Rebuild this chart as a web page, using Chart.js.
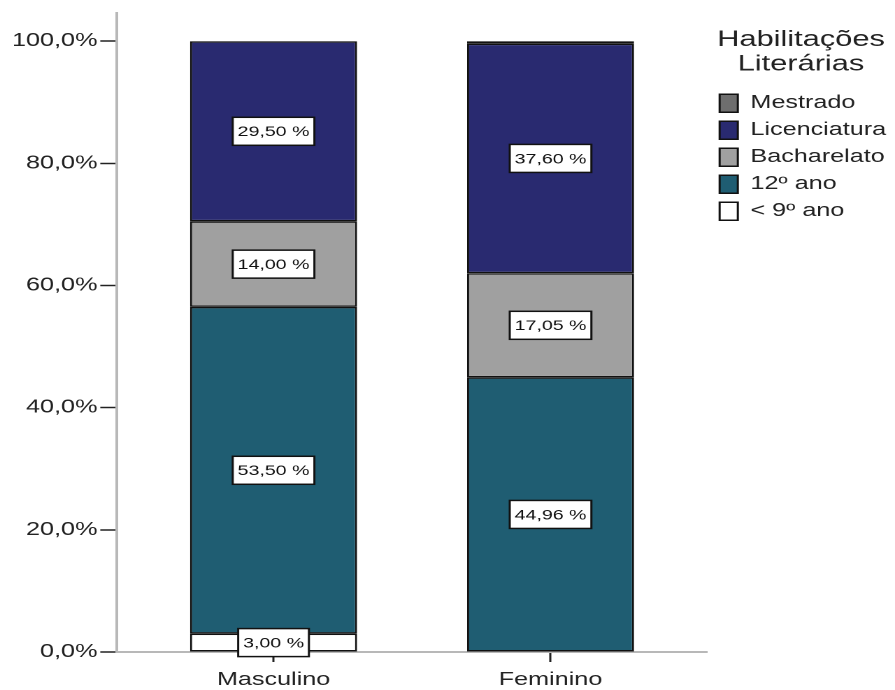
<!DOCTYPE html>
<html>
<head>
<meta charset="utf-8">
<script src="https://cdn.jsdelivr.net/npm/chart.js@4/dist/chart.umd.min.js"></script>
<style>
  html, body { margin: 0; padding: 0; background: #fff; overflow: hidden; }
  /* the chart is laid out narrow and widened horizontally */
  #wrap { width: 640px; height: 690px; transform: scaleX(1.3984375); transform-origin: 0 0; }
</style>
</head>
<body>
<div id="wrap"><canvas id="c"></canvas></div>
<script>
const categories = ['Masculino', 'Feminino'];
const seriesNames = ['< 9º ano', '12º ano', 'Bacharelato', 'Licenciatura', 'Mestrado'];
const menor9 = [3.00, 0];
const ano12 = [53.50, 44.96];
const bacharelato = [14.00, 17.05];
const licenciatura = [29.50, 37.60];
const mestrado = [0, 0.39];
const seriesColors = ['#ffffff', '#1f5d72', '#a0a0a0', '#292a70', '#6e6e6e'];
const yTickValues = [0, 20, 40, 60, 80, 100];

const FONT = "'Liberation Sans', Arial, sans-serif";
const seriesValues = [menor9, ano12, bacharelato, licenciatura, mestrado];

const fmtPct = v => v.toFixed(2).replace('.', ',') + ' %';

const segmentLabels = {
  id: 'segmentLabels',
  afterDatasetsDraw(chart) {
    const ctx = chart.ctx;
    ctx.save();
    ctx.font = '14px ' + FONT;
    ctx.textAlign = 'center';
    ctx.textBaseline = 'middle';
    chart.data.datasets.forEach((ds, di) => {
      const meta = chart.getDatasetMeta(di);
      meta.data.forEach((bar, i) => {
        const v = ds.data[i].y;
        if (v < 1) return;
        const p = bar.getProps(['x', 'y', 'base'], true);
        const cy = (p.y + p.base) / 2;
        const text = fmtPct(v);
        const w = ctx.measureText(text).width + 7;
        const h = 28;
        ctx.fillStyle = '#ffffff';
        ctx.fillRect(p.x - w / 2, cy - h / 2, w, h);
        ctx.lineWidth = 1.5;
        ctx.strokeStyle = '#111111';
        ctx.strokeRect(p.x - w / 2, cy - h / 2, w, h);
        ctx.fillStyle = '#111111';
        ctx.fillText(text, p.x, cy + 1);
      });
    });
    ctx.restore();
  }
};

new Chart(document.getElementById('c'), {
  type: 'bar',
  data: {
    datasets: seriesNames.map((name, k) => ({
      label: name,
      data: seriesValues[k].map((v, i) => ({ x: i, y: v })),
      backgroundColor: seriesColors[k],
      borderColor: '#111111',
      borderWidth: 1.5,
      borderSkipped: false,
      barPercentage: 0.603,
      categoryPercentage: 1
    }))
  },
  options: {
    responsive: true,
    maintainAspectRatio: false,
    devicePixelRatio: 2,
    animation: false,
    layout: { padding: { top: 8, right: 0, bottom: 0, left: 0 } },
    plugins: {
      tooltip: { enabled: false },
      legend: {
        position: 'right',
        align: 'start',
        reverse: true,
        maxWidth: 134.4,
        title: {
          display: true,
          text: ['Habilitações', 'Literárias'],
          color: '#222222',
          font: { family: FONT, size: 22, lineHeight: 1.1 },
          padding: { top: 21, bottom: 32 }
        },
        labels: {
          color: '#222222',
          font: { family: FONT, size: 18 },
          boxWidth: 13,
          boxHeight: 18,
          padding: 9
        }
      }
    },
    scales: {
      x: {
        type: 'linear',
        stacked: true,
        offset: false,
        min: -0.565,
        max: 1.565,
        afterBuildTicks: s => { s.ticks = categories.map((c, i) => ({ value: i })); },
        afterFit: s => { s.height = 38; },
        grid: { display: true, offset: false, drawOnChartArea: false, tickLength: 10, tickColor: '#222222', tickWidth: 1.5 },
        border: { display: true, color: '#b8b8b8', width: 2 },
        ticks: {
          color: '#222222',
          font: { family: FONT, size: 18 },
          padding: 7,
          maxRotation: 0,
          callback: v => categories[v] ?? ''
        }
      },
      y: {
        stacked: true,
        min: 0,
        max: 104.65,
        afterBuildTicks: s => { s.ticks = yTickValues.map(v => ({ value: v })); },
        afterFit: s => { s.width = 83.7; },
        grid: { display: true, drawOnChartArea: false, tickLength: 12, tickColor: '#222222', tickWidth: 1.5 },
        border: { display: true, color: '#b8b8b8', width: 2 },
        ticks: {
          color: '#222222',
          font: { family: FONT, size: 18 },
          padding: 2,
          callback: v => v.toFixed(1).replace('.', ',') + '%'
        }
      }
    }
  },
  plugins: [segmentLabels]
});
</script>
</body>
</html>
